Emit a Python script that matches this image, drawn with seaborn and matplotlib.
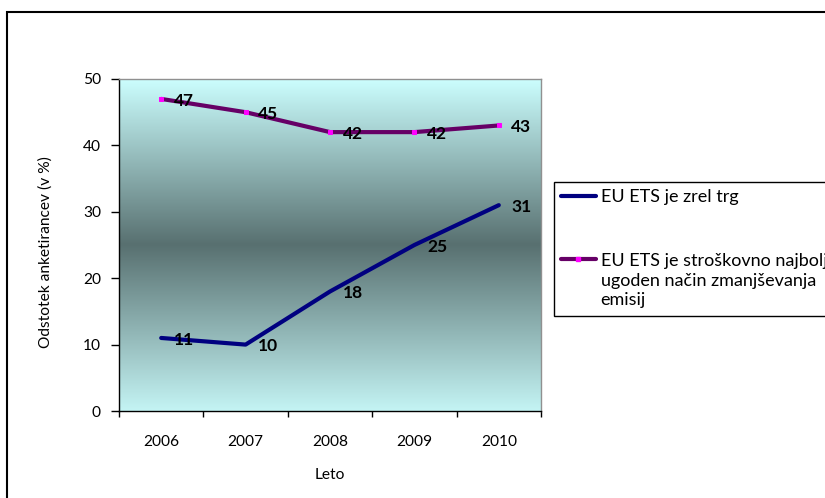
import numpy as np
import pandas as pd
import matplotlib
matplotlib.use("Agg")
import matplotlib.pyplot as plt
import seaborn as sns
from matplotlib.colors import LinearSegmentedColormap
from matplotlib.patches import Rectangle
from matplotlib.lines import Line2D

# Survey results: share of respondents (%) per year
years = ["2006", "2007", "2008", "2009", "2010"]
mature_market = [11, 10, 18, 25, 31]
cost_effective = [47, 45, 42, 42, 43]
series_names = [
    "EU ETS je zrel trg",
    "EU ETS je stroškovno najbolj\nugoden način zmanjševanja\nemisij",
]

BLUE = "#000080"
PURPLE = "#660066"
MAGENTA = "#FF00FF"

sns.set_theme(style="white")
plt.rcParams["font.family"] = ["Lato", "DejaVu Sans"]

positions = np.arange(len(years))
df = pd.DataFrame({
    "pos": np.concatenate([positions, positions]),
    "val": mature_market + cost_effective,
    "serie": [series_names[0]] * len(years) + [series_names[1]] * len(years),
})

fig = plt.figure(figsize=(8.25, 4.98), dpi=100)
ax = fig.add_axes([119 / 825, 87 / 498, 422 / 825, 332 / 498])

# Plot-area fill: light cyan at the edges, dark slate in the middle
cmap = LinearSegmentedColormap.from_list(
    "plotarea", [(0.0, "#C4F4F4"), (0.5, "#587070"), (1.0, "#CCFFFF")]
)
grad = np.linspace(0, 1, 256).reshape(-1, 1)
ax.imshow(grad, extent=(-0.5, 4.5, 0, 50), aspect="auto", cmap=cmap,
          origin="lower", interpolation="bicubic", zorder=0)

styles = [(series_names[0], BLUE, None), (series_names[1], PURPLE, MAGENTA)]
for name, color, mcol in styles:
    sub = df[df["serie"] == name]
    kw = dict(marker="s", markersize=2.5, markerfacecolor=mcol,
              markeredgecolor=mcol) if mcol else {}
    sns.lineplot(data=sub, x="pos", y="val", color=color, linewidth=3,
                 ax=ax, legend=False, zorder=3, **kw)
    for x, v in zip(sub["pos"], sub["val"]):
        ax.annotate(str(v), (x, v), xytext=(9, -1.2), textcoords="offset points",
                    ha="left", va="center", fontsize=12.5, fontweight="bold",
                    color="black", zorder=4)

ax.set_xlim(-0.5, 4.5)
ax.set_ylim(0, 50)

ax.set_yticks([0, 10, 20, 30, 40, 50])
ax.tick_params(axis="y", left=True, direction="out", length=6, width=1,
               color="black", pad=7, labelsize=11.2, labelcolor="black")

ax.set_xticks(positions)
ax.set_xticklabels(years)
ax.set_xticks(np.arange(-0.5, 5.0, 1.0), minor=True)
ax.tick_params(axis="x", which="major", bottom=True, length=0, pad=17,
               labelsize=11.2, labelcolor="black")
ax.tick_params(axis="x", which="minor", bottom=True, direction="out",
               length=4.5, width=1, color="black")

for side in ["left", "bottom"]:
    ax.spines[side].set_color("black")
    ax.spines[side].set_linewidth(1)
for side in ["top", "right"]:
    ax.spines[side].set_color("#909090")
    ax.spines[side].set_linewidth(1)

ax.set_xlabel("Leto", fontsize=11.2, color="black")
ax.set_ylabel("Odstotek anketirancev (v %)", fontsize=11.2, color="black")
ax.xaxis.set_label_coords(0.5, -0.172)
ax.yaxis.set_label_coords(-0.156, 0.48)

handles = [
    Line2D([], [], color=BLUE, lw=3),
    Line2D([], [], color=PURPLE, lw=3, marker="s", markersize=2.5,
           markerfacecolor=MAGENTA, markeredgecolor=MAGENTA),
]
leg = fig.legend(handles, series_names, loc="upper left",
                 bbox_to_anchor=(554 / 825, 1 - 182 / 498),
                 bbox_transform=fig.transFigure, frameon=True, fancybox=False,
                 edgecolor="black", framealpha=1, facecolor="white",
                 borderpad=0.4, borderaxespad=0, handlelength=1.9,
                 handletextpad=0.28, labelspacing=2.65, fontsize=13)
leg.get_frame().set_linewidth(1.0)
for t in leg.get_texts():
    t.set_linespacing(1.28)
    t.set_color("black")
# put each handle level with the first line of its label
for column in leg._legend_handle_box.get_children():
    for item in column.get_children():
        item.align = "top"

# chart frame around the whole figure
fig.add_artist(Rectangle((7 / 825, -0.2), 1.5, 1 - 12 / 498 + 0.2,
                         transform=fig.transFigure, fill=False,
                         edgecolor="black", linewidth=1.5, clip_on=False))

fig.savefig("out.png", dpi=100, facecolor="white")
